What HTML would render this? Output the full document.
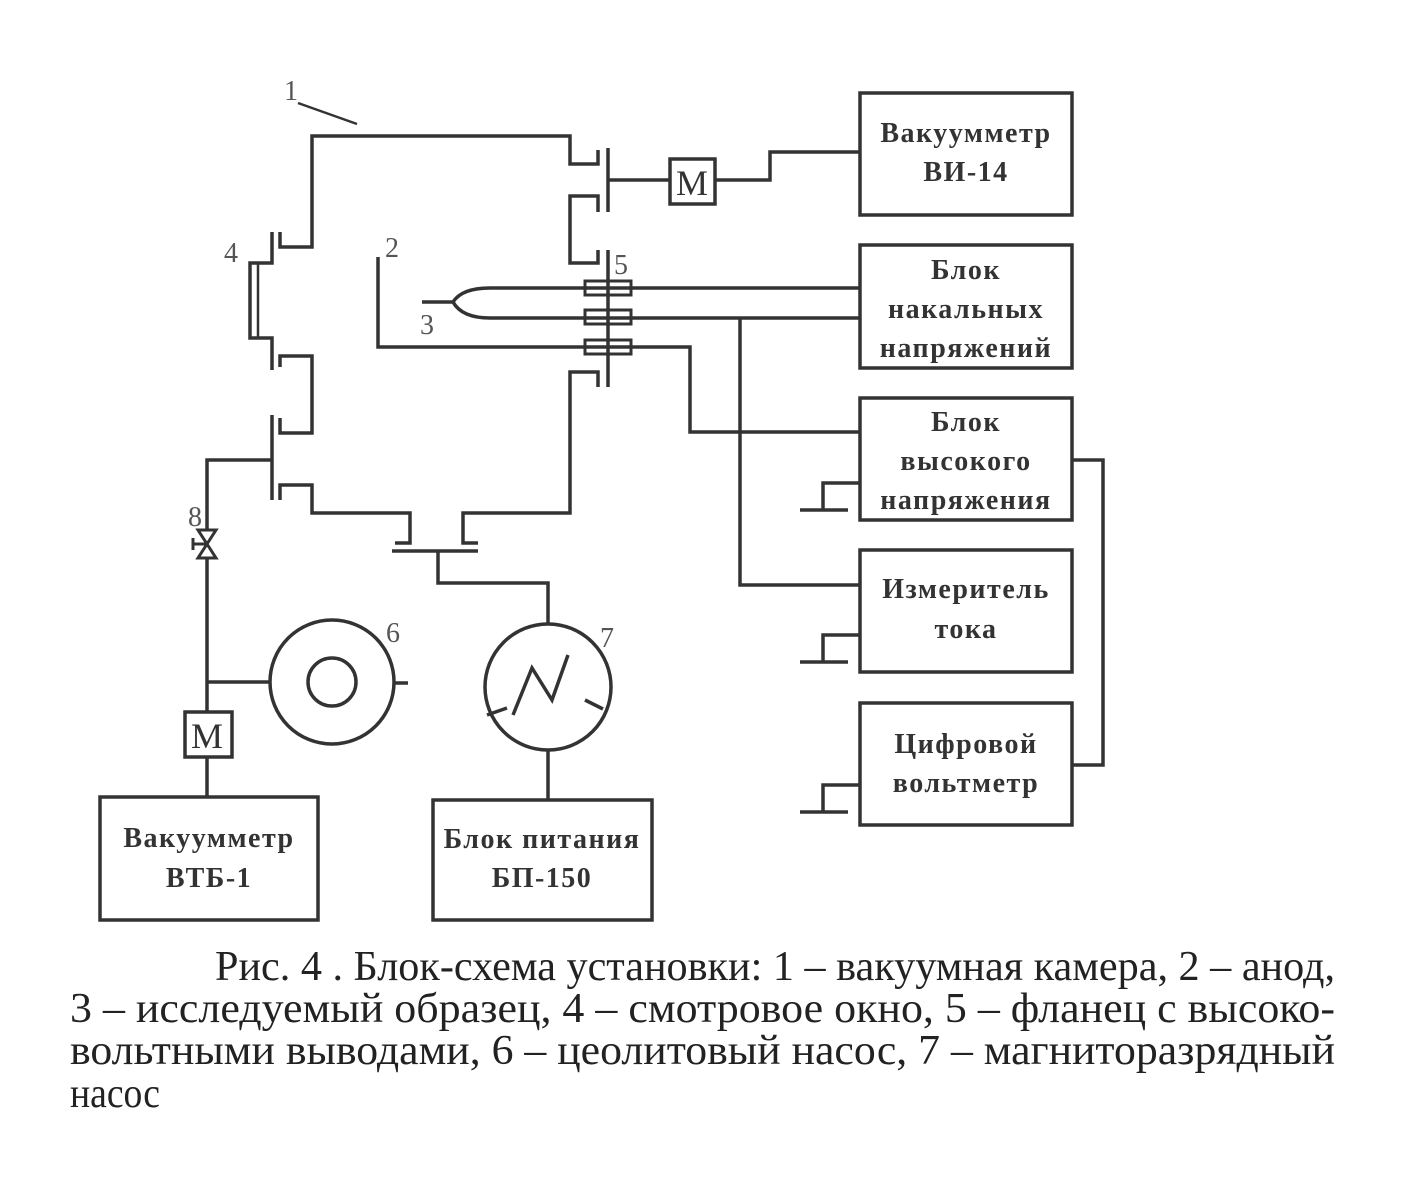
<!DOCTYPE html>
<html><head><meta charset="utf-8"><style>
html,body{margin:0;padding:0;background:#fff;}
svg{display:block;}
.b{font-family:"Liberation Serif",serif;font-weight:bold;font-size:28px;fill:#333;text-anchor:middle;letter-spacing:1.5px;}
.n{font-family:"Liberation Serif",serif;font-size:28px;fill:#555;}
.c{font-family:"Liberation Serif",serif;font-size:42px;fill:#222;}
</style></head><body>
<svg width="1416" height="1180" viewBox="0 0 1416 1180" xmlns="http://www.w3.org/2000/svg">
<g fill="none" stroke="#333" stroke-width="3.5">
<line x1="298" y1="103" x2="357" y2="124" stroke-width="2.5"/>
<polyline points="280,232 280,247 312,247 312,136 570,136 570,164 598,164 598,150"/>
<line x1="608" y1="148" x2="608" y2="212"/>
<polyline points="598,212 598,196 570,196 570,263 598,263 598,250"/>
<line x1="608" y1="250" x2="608" y2="387"/>
<polyline points="598,387 598,372 570,372 570,513 463,513 463,543 478,543"/>
<line x1="392" y1="551" x2="478" y2="551"/>
<polyline points="395,543 410,543 410,513 312,513 312,485 280,485 280,500"/>
<line x1="272" y1="415" x2="272" y2="500"/>
<polyline points="280,418 280,433 312,433 312,356 280,356 280,367"/>
<polyline points="272,370 272,338 250,338 250,263 272,263 272,232"/>
<line x1="258" y1="263" x2="258" y2="338" stroke-width="2.5"/>
<line x1="608" y1="180" x2="670" y2="180"/>
<rect x="670" y="159" width="45" height="45"/>
<polyline points="715,180 770,180 770,152 860,152"/>
<rect x="860" y="93" width="212" height="122"/>
<polyline points="378,257 378,347 690,347 690,432 860,432"/>
<line x1="422" y1="302" x2="453" y2="302"/>
<path d="M453,302 Q462,288 490,288 L860,288"/>
<path d="M453,302 Q462,318 490,318 L860,318"/>
<polyline points="740,318 740,585 860,585"/>
<rect x="585" y="281" width="46" height="14" stroke-width="3"/>
<rect x="585" y="310" width="46" height="14" stroke-width="3"/>
<rect x="585" y="340" width="46" height="14" stroke-width="3"/>
<rect x="860" y="245" width="212" height="123"/>
<rect x="860" y="398" width="212" height="122"/>
<rect x="860" y="550" width="212" height="122"/>
<rect x="860" y="703" width="212" height="122"/>
<polyline points="1072,460 1103,460 1103,765 1072,765"/>
<polyline points="860,483 823,483 823,510"/><line x1="800" y1="510" x2="848" y2="510"/>
<polyline points="860,635 823,635 823,662"/><line x1="800" y1="662" x2="848" y2="662"/>
<polyline points="860,785 823,785 823,812"/><line x1="800" y1="812" x2="848" y2="812"/>
<polyline points="272,460 207,460 207,530"/>
<path d="M198,530 L216,530 L198,558 L216,558 Z" stroke-width="3"/>
<line x1="193" y1="544" x2="207" y2="544" stroke-width="3"/>
<line x1="193" y1="538" x2="193" y2="550" stroke-width="3"/>
<line x1="207" y1="558" x2="207" y2="712"/>
<line x1="207" y1="682" x2="270" y2="682"/>
<rect x="185" y="712" width="47" height="45"/>
<line x1="207" y1="757" x2="207" y2="797"/>
<rect x="100" y="797" width="218" height="123"/>
<circle cx="332" cy="682" r="62"/>
<circle cx="332" cy="682" r="24"/>
<line x1="394" y1="683" x2="408" y2="683"/>
<polyline points="438,551 438,583 548,583 548,624"/>
<circle cx="548" cy="687" r="63"/>
<polyline points="513,715 532,668 552,700 568,655"/>
<line x1="487" y1="715" x2="507" y2="708"/>
<line x1="585" y1="700" x2="603" y2="709"/>
<line x1="548" y1="750" x2="548" y2="800"/>
<rect x="433" y="800" width="219" height="120"/>
</g>
<text class="n" x="284" y="100">1</text>
<text class="n" x="224" y="262">4</text>
<text class="n" x="385" y="257">2</text>
<text class="n" x="420" y="334">3</text>
<text class="n" x="614" y="274">5</text>
<text class="n" x="188" y="526">8</text>
<text class="n" x="386" y="642">6</text>
<text class="n" x="600" y="647">7</text>
<text class="b" x="966" y="142">Вакуумметр</text>
<text class="b" x="966" y="181">ВИ-14</text>
<text class="b" x="966" y="279">Блок</text>
<text class="b" x="966" y="318">накальных</text>
<text class="b" x="966" y="357">напряжений</text>
<text class="b" x="966" y="431">Блок</text>
<text class="b" x="966" y="470">высокого</text>
<text class="b" x="966" y="509">напряжения</text>
<text class="b" x="966" y="598">Измеритель</text>
<text class="b" x="966" y="638">тока</text>
<text class="b" x="966" y="753">Цифровой</text>
<text class="b" x="966" y="792">вольтметр</text>
<text class="b" x="209" y="847">Вакуумметр</text>
<text class="b" x="209" y="887">ВТБ-1</text>
<text class="b" x="542" y="848">Блок питания</text>
<text class="b" x="542" y="887">БП-150</text>
<text class="n" x="676" y="195" style="font-size:36px;fill:#333">M</text>
<text class="n" x="191" y="748" style="font-size:36px;fill:#333">M</text>
<text class="c" x="215" y="980" textLength="1120" lengthAdjust="spacingAndGlyphs">Рис.  4 . Блок-схема установки: 1 – вакуумная камера, 2 – анод,</text>
<text class="c" x="70" y="1022" textLength="1265" lengthAdjust="spacingAndGlyphs">3 – исследуемый образец, 4 – смотровое окно, 5 – фланец с высоко-</text>
<text class="c" x="70" y="1064" textLength="1265" lengthAdjust="spacingAndGlyphs">вольтными выводами, 6 – цеолитовый насос, 7 – магниторазрядный</text>
<text class="c" x="70" y="1107" textLength="90" lengthAdjust="spacingAndGlyphs">насос</text>
</svg>
</body></html>
